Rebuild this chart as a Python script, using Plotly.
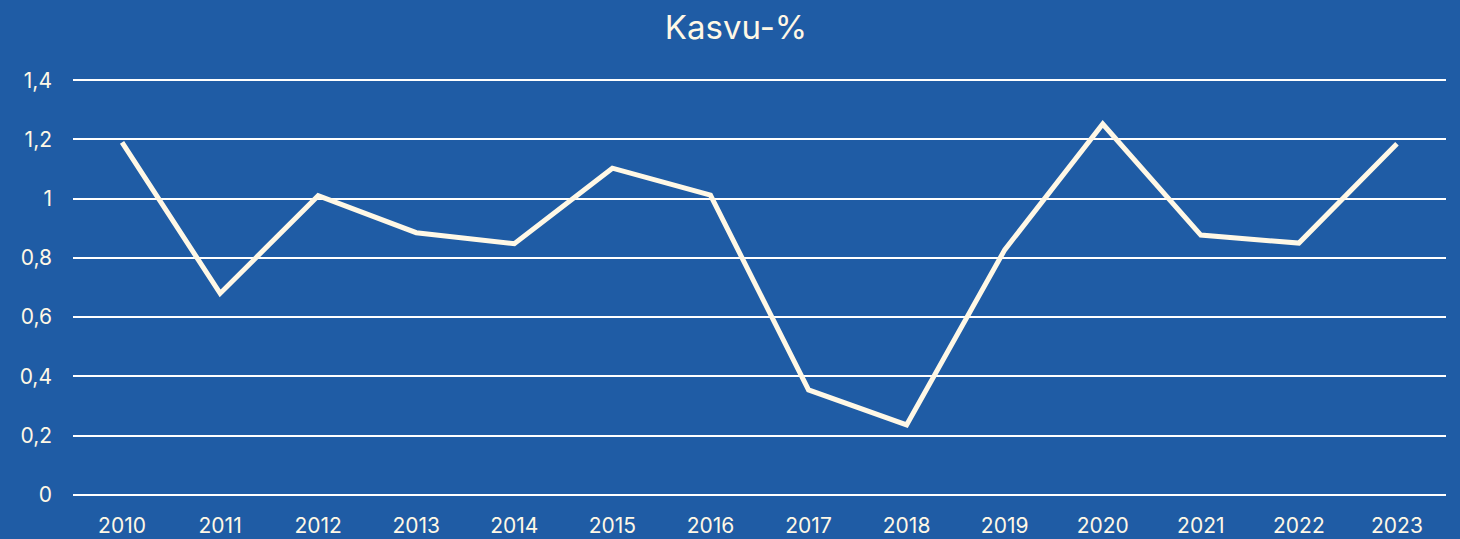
import plotly.graph_objects as go

years = ["2010", "2011", "2012", "2013", "2014", "2015", "2016",
         "2017", "2018", "2019", "2020", "2021", "2022", "2023"]
growth = [1.19, 0.68, 1.01, 0.885, 0.848, 1.103, 1.012,
          0.354, 0.236, 0.827, 1.252, 0.877, 0.85, 1.185]
y_ticks = [0, 0.2, 0.4, 0.6, 0.8, 1.0, 1.2, 1.4]

bg = "#1f5ca5"
cream = "#fff8e6"

fig = go.Figure()
fig.add_trace(go.Scatter(
    x=years, y=growth, mode="lines",
    line=dict(color=cream, width=5, shape="linear"),
    hoverinfo="skip", showlegend=False,
))

fig.update_layout(
    width=1460, height=539,
    paper_bgcolor=bg, plot_bgcolor=bg,
    margin=dict(l=73, r=14, t=79, b=43),
    separators=", ",
    font=dict(family="Inter", color=cream, size=22),
    title=dict(text="Kasvu-%", x=736 / 1460, xanchor="center", xref="container",
               y=1 - 27 / 539, yanchor="middle", yref="container",
               font=dict(family="Inter", size=33, color=cream)),
    xaxis=dict(type="category", range=[-0.5, len(years) - 0.5],
               showgrid=False, zeroline=False, showline=False,
               ticks="", tickfont=dict(size=21, color=cream),
               ticklabelstandoff=15, automargin=False, fixedrange=True),
    yaxis=dict(range=[-0.004, 1.404], tickmode="array", tickvals=y_ticks,
               showgrid=True, gridcolor="#ffffff", gridwidth=2,
               zeroline=False, showline=False, ticks="",
               tickfont=dict(size=21, color=cream),
               ticklabelstandoff=20, automargin=False, fixedrange=True),
)

fig.write_html("out.html")
